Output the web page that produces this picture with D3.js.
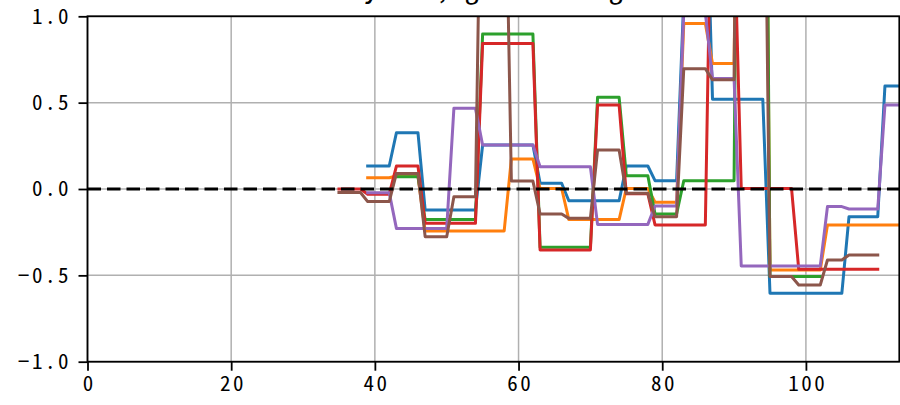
<!DOCTYPE html>
<html>
<head>
<meta charset="utf-8">
<script src="https://cdn.jsdelivr.net/npm/d3@7"></script>
<style>
  body { margin: 0; background: #fff; }
  svg { display: block; }
  text { font-family: "Noto Sans Mono CJK JP", "Noto Sans CJK JP", monospace; fill: #000; }
</style>
</head>
<body>
<script>
// x positions (steps) shared by every series
var steps = [35, 36, 37, 38, 39, 40, 41, 42, 43, 44, 45, 46, 47, 48, 49, 50, 51, 52, 53, 54,
  55, 56, 57, 58, 59, 60, 61, 62, 63, 64, 65, 66, 67, 68, 69, 70, 71, 72, 73, 74,
  75, 76, 77, 78, 79, 80, 81, 82, 83, 84, 85, 86, 87, 88, 89, 90, 91, 92, 93, 94,
  95, 96, 97, 98, 99, 100, 101, 102, 103, 104, 105, 106, 107, 108, 109, 110, 111, 112, 113];

// series values, one per step (null = no value)
var seriesBlue = [null, null, null, null, 0.133, 0.133, 0.133, 0.133, 0.326, 0.326, 0.326, 0.326,
  -0.122, -0.122, -0.122, -0.122, -0.122, -0.122, -0.122, -0.122,
  0.255, 0.255, 0.255, 0.255, 0.255, 0.255, 0.255, 0.255, 0.033, 0.033, 0.033, 0.033,
  -0.068, -0.068, -0.068, -0.068, -0.068, -0.068, -0.068, -0.068,
  0.133, 0.133, 0.133, 0.133, 0.048, 0.048, 0.048, 0.048, 1.1, 1.5, 1.8, 2.0,
  0.52, 0.52, 0.52, 0.52, 0.52, 0.52, 0.52, 0.52,
  -0.604, -0.604, -0.604, -0.604, -0.604, -0.604, -0.604, -0.604, -0.604, -0.604, -0.604,
  -0.16, -0.16, -0.16, -0.16, -0.16, 0.596, 0.596, 0.596];

var seriesOrange = [null, null, null, null, 0.065, 0.065, 0.065, 0.065, 0.075, 0.075, 0.075, 0.075,
  -0.243, -0.243, -0.243, -0.243, -0.243, -0.243, -0.243, -0.243, -0.243, -0.243, -0.243, -0.243,
  0.174, 0.174, 0.174, 0.174, 0.003, 0.003, 0.003, 0.003,
  -0.177, -0.177, -0.177, -0.177, -0.177, -0.177, -0.177, -0.177,
  0.003, 0.003, 0.003, 0.003, -0.077, -0.077, -0.077, -0.077, 0.958, 0.958, 0.958, 0.958,
  0.726, 0.726, 0.726, 0.726, 4.0, 4.1, 4.2, 4.4,
  -0.469, -0.469, -0.469, -0.469, -0.469, -0.469, -0.469, -0.469,
  -0.208, -0.208, -0.208, -0.208, -0.208, -0.208, -0.208, -0.208, -0.208, -0.208, -0.208];

var seriesGreen = [null, null, null, null, null, null, null, null, 0.071, 0.071, 0.071, 0.071,
  -0.176, -0.176, -0.176, -0.176, -0.176, -0.176, -0.176, -0.176,
  0.897, 0.897, 0.897, 0.897, 0.897, 0.897, 0.897, 0.897,
  -0.338, -0.338, -0.338, -0.338, -0.338, -0.338, -0.338, -0.338,
  0.531, 0.531, 0.531, 0.531, 0.077, 0.077, 0.077, 0.077, -0.145, -0.145, -0.145, -0.145,
  0.048, 0.048, 0.048, 0.048, 0.048, 0.048, 0.048, 0.048, 5.0, 5.2, 5.1, 5.0,
  -0.507, -0.507, -0.507, -0.507, -0.507, -0.507, -0.507, -0.507,
  null, null, null, null, null, null, null, null, null, null, null];

var seriesRed = [0.0, 0.0, 0.0, 0.0, -0.03, -0.03, -0.03, -0.03, 0.133, 0.133, 0.133, 0.133,
  -0.199, -0.199, -0.199, -0.199, -0.199, -0.199, -0.199, -0.199,
  0.843, 0.843, 0.843, 0.843, 0.843, 0.843, 0.843, 0.843,
  -0.353, -0.353, -0.353, -0.353, -0.353, -0.353, -0.353, -0.353,
  0.486, 0.486, 0.486, 0.486, -0.028, -0.028, -0.028, -0.028,
  -0.208, -0.208, -0.208, -0.208, -0.208, -0.208, -0.208, -0.208, 2.2, 2.3, 2.1, 1.55,
  0.003, 0.003, 0.003, 0.003, 0.003, 0.003, 0.003, 0.003,
  -0.465, -0.465, -0.465, -0.465, -0.465, -0.465, -0.465, -0.465, -0.465, -0.465, -0.465, -0.465,
  null, null, null];

var seriesPurple = [null, null, null, null, -0.021, -0.021, -0.021, -0.021,
  -0.228, -0.228, -0.228, -0.228, -0.228, -0.228, -0.228, -0.228, 0.467, 0.467, 0.467, 0.467,
  0.255, 0.255, 0.255, 0.255, 0.255, 0.255, 0.255, 0.255,
  0.129, 0.129, 0.129, 0.129, 0.129, 0.129, 0.129, 0.129,
  -0.205, -0.205, -0.205, -0.205, -0.205, -0.205, -0.205, -0.205,
  -0.098, -0.098, -0.098, -0.098, 1.03, 1.1, 1.1, 1.02, 0.64, 0.64, 0.64, 0.64,
  -0.446, -0.446, -0.446, -0.446, -0.446, -0.446, -0.446, -0.446, -0.446, -0.446, -0.446, -0.446,
  -0.102, -0.102, -0.102, -0.116, -0.116, -0.116, -0.116, -0.116, 0.486, 0.486, 0.486];

var seriesBrown = [-0.02, -0.02, -0.02, -0.02, -0.073, -0.073, -0.073, -0.073, 0.09, 0.09, 0.09, 0.09,
  -0.276, -0.276, -0.276, -0.276, -0.045, -0.045, -0.045, -0.045, 2.6, 2.5, 2.4, 2.3,
  0.046, 0.046, 0.046, 0.046, -0.145, -0.145, -0.145, -0.145, -0.17, -0.17, -0.17, -0.17,
  0.226, 0.226, 0.226, 0.226, -0.025, -0.025, -0.025, -0.025, -0.16, -0.16, -0.16, -0.16,
  0.697, 0.697, 0.697, 0.697, 0.632, 0.632, 0.632, 0.632, 5.0, 5.0, 4.8, 3.0,
  -0.507, -0.507, -0.507, -0.507, -0.556, -0.556, -0.556, -0.556,
  -0.411, -0.411, -0.411, -0.382, -0.382, -0.382, -0.382, -0.382, null, null, null];

var seriesList = [seriesBlue, seriesOrange, seriesGreen, seriesRed, seriesPurple, seriesBrown];
var seriesColors = ["#1f77b4", "#ff7f0e", "#2ca02c", "#d62728", "#9467bd", "#8c564b"];

// tick labels
var xTicks = [0, 20, 40, 60, 80, 100];
var yTicks = [-1, -0.5, 0, 0.5, 1];
var titleText = "Daily sum, gain or avg 20d";

// svg + margins
var svgWidth = 900;
var svgHeight = 405;
var chartMargin = { top: 16.3, right: 0.7, bottom: 43.3, left: 87.5 };
var chartWidth = svgWidth - chartMargin.left - chartMargin.right;
var chartHeight = svgHeight - chartMargin.top - chartMargin.bottom;

var svg = d3.select("body")
  .append("svg")
  .attr("width", svgWidth)
  .attr("height", svgHeight);

var chartGroup = svg.append("g")
  .attr("transform", `translate(${chartMargin.left}, ${chartMargin.top})`);

var xScale = d3.scaleLinear().domain([0, 113]).range([0, chartWidth]);
var yScale = d3.scaleLinear().domain([-1, 1]).range([chartHeight, 0]);

svg.append("defs").append("clipPath")
  .attr("id", "plot-clip")
  .append("rect")
  .attr("width", chartWidth)
  .attr("height", chartHeight);

// grid
chartGroup.append("g")
  .selectAll("line.vgrid")
  .data(xTicks)
  .enter().append("line")
  .attr("x1", d => xScale(d)).attr("x2", d => xScale(d))
  .attr("y1", 0).attr("y2", chartHeight)
  .attr("stroke", "#b0b0b0").attr("stroke-width", 1.5);

chartGroup.append("g")
  .selectAll("line.hgrid")
  .data(yTicks)
  .enter().append("line")
  .attr("x1", 0).attr("x2", chartWidth)
  .attr("y1", d => yScale(d)).attr("y2", d => yScale(d))
  .attr("stroke", "#b0b0b0").attr("stroke-width", 1.5);

// lines
var drawLine = d3.line()
  .defined(d => d[1] !== null)
  .x(d => xScale(d[0]))
  .y(d => yScale(d[1]));

var plotArea = chartGroup.append("g").attr("clip-path", "url(#plot-clip)");

seriesList.forEach(function(values, i) {
  plotArea.append("path")
    .attr("d", drawLine(steps.map((s, j) => [s, values[j]])))
    .attr("fill", "none")
    .attr("stroke", seriesColors[i])
    .attr("stroke-width", 3)
    .attr("stroke-linejoin", "round")
    .attr("stroke-linecap", "square");
});

// zero reference line
plotArea.append("line")
  .attr("x1", 0).attr("x2", chartWidth)
  .attr("y1", yScale(0)).attr("y2", yScale(0))
  .attr("stroke", "#000")
  .attr("stroke-width", 3.2)
  .attr("stroke-dasharray", "13.5,6");

// axes
var bottomAxis = d3.axisBottom(xScale).tickValues(xTicks).tickSize(9).tickPadding(5)
  .tickFormat(d3.format("d"));
var leftAxis = d3.axisLeft(yScale).tickValues(yTicks).tickSize(9).tickPadding(10)
  .tickFormat(d3.format(".1f"));

var xAxisGroup = chartGroup.append("g")
  .attr("transform", `translate(0, ${chartHeight})`)
  .call(bottomAxis);
var yAxisGroup = chartGroup.append("g").call(leftAxis);

[xAxisGroup, yAxisGroup].forEach(function(g) {
  g.select(".domain").remove();
  g.selectAll(".tick line").attr("stroke", "#000").attr("stroke-width", 1.8);
  g.selectAll(".tick text").attr("font-size", 21).attr("fill", "#000")
    .style("letter-spacing", "2.5px");
});
// letter-spacing leaves a trailing gap, shift labels back
yAxisGroup.selectAll(".tick text").attr("dx", 2.5);
xAxisGroup.selectAll(".tick text").attr("dx", 1.25);

// spines
chartGroup.append("rect")
  .attr("width", chartWidth)
  .attr("height", chartHeight)
  .attr("fill", "none")
  .attr("stroke", "#000")
  .attr("stroke-width", 1.8);

// title (mostly above the visible area)
svg.append("text")
  .attr("x", chartMargin.left + chartWidth / 2)
  .attr("y", -2)
  .attr("text-anchor", "middle")
  .attr("font-size", 28.8)
  .text(titleText);
</script>
</body>
</html>
